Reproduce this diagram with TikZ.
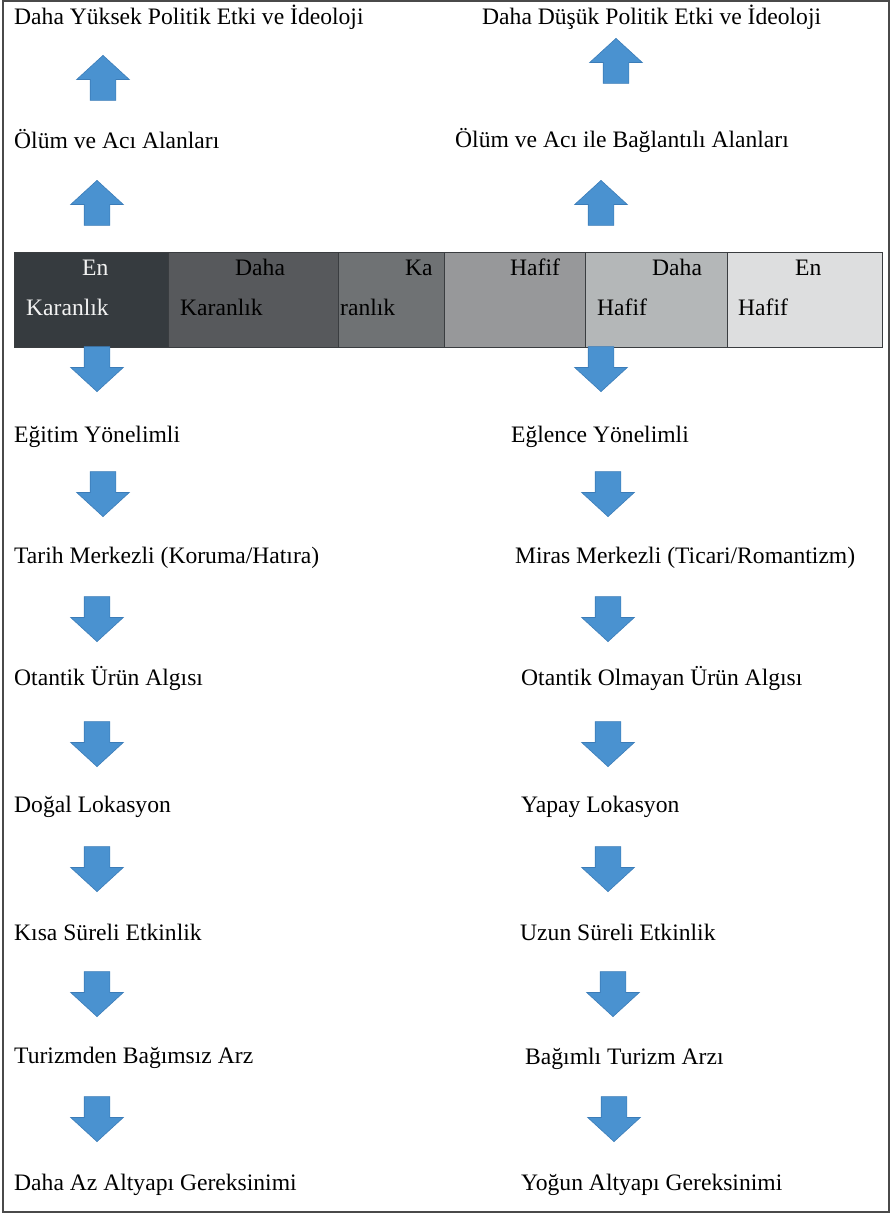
\documentclass[tikz,border=0pt]{standalone}
\usepackage{fontspec}
\setmainfont{Liberation Serif}
\usetikzlibrary{shapes.arrows, positioning}
\definecolor{arrblue}{HTML}{4A92D0}
\definecolor{arredge}{HTML}{3B7CB8}
\definecolor{barline}{HTML}{3A3D40}
\definecolor{frameline}{HTML}{4A4A4A}
\definecolor{lighttxt}{HTML}{F2F2F2}
\definecolor{shadeA}{HTML}{363B3F}
\definecolor{shadeB}{HTML}{57595C}
\definecolor{shadeC}{HTML}{6F7274}
\definecolor{shadeD}{HTML}{97989A}
\definecolor{shadeE}{HTML}{B4B7B8}
\definecolor{shadeF}{HTML}{DDDEDF}
\tikzset{
  txt/.style    ={anchor=base west, inner sep=0pt, font=\fontsize{23.6}{28}\selectfont},
  cell/.style   ={draw=barline, line width=0.7pt, anchor=north west, inner sep=0pt,
                  minimum height=95pt},
  dnarr/.style  ={single arrow, shape border rotate=270, fill=arrblue, draw=arredge,
                  line width=0.6pt, minimum height=45pt, inner sep=12.5pt,
                  single arrow head extend=13.5pt, single arrow tip angle=95,
                  anchor=tip},
  uparr/.style  ={dnarr, shape border rotate=90},
}

\begin{document}
\begin{tikzpicture}[x=1pt, y=-1pt]
  \useasboundingbox (0,0) rectangle (895,1223);
  \draw[frameline, line width=1.3pt] (3,1) rectangle (889,1212);

  % top: upward chain
  \node[txt] (topL)  at (14,25)   {Daha Yüksek Politik Etki ve İdeoloji};
  \node[txt] (topR)  at (482,25)  {Daha Düşük Politik Etki ve İdeoloji};
  \node[uparr] (uL1) at (103,55)  {};
  \node[uparr] (uR1) at (616,38)  {};
  \node[txt] (olumL) at (14,148)  {Ölüm ve Acı Alanları};
  \node[txt] (olumR) at (455,147) {Ölüm ve Acı ile Bağlantılı Alanları};
  \node[uparr] (uL2) at (97,180)  {};
  \node[uparr] (uR2) at (601,180) {};

  % shade bar
  \foreach \xa/\xb/\col [count=\i] in {14/168/shadeA, 168/338/shadeB, 338/444/shadeC,
                                       444/585/shadeD, 585/727/shadeE, 727/882/shadeF}
    \node[cell, fill=\col, minimum width=\xb pt-\xa pt] (c\i) at (\xa,252) {};

  \node[txt, text=lighttxt] (c1a) at (82,275)  {En};
  \node[txt, text=lighttxt] (c1b) at (26,315)  {Karanlık};
  \node[txt] (c2a) at (235,275) {Daha};
  \node[txt] (c2b) at (180,315) {Karanlık};
  \node[txt] (c3a) at (405,275) {Ka};
  \node[txt] (c3b) at (340,315) {ranlık};
  \node[txt] (c4a) at (510,275) {Hafif};
  \node[txt] (c5a) at (652,275) {Daha};
  \node[txt] (c5b) at (597,315) {Hafif};
  \node[txt] (c6a) at (795,275) {En};
  \node[txt] (c6b) at (738,315) {Hafif};

  % left column
  \node[dnarr] (dL1) at (97,392)  {};
  \node[txt] (egitim)  at (14,442)  {Eğitim Yönelimli};
  \node[dnarr] (dL2) at (103,517) {};
  \node[txt] (tarih)   at (14,563)  {Tarih Merkezli (Koruma/Hatıra)};
  \node[dnarr] (dL3) at (97,642)  {};
  \node[txt] (otantik) at (14,685)  {Otantik Ürün Algısı};
  \node[dnarr] (dL4) at (97,767)  {};
  \node[txt] (dogal)   at (14,812)  {Doğal Lokasyon};
  \node[dnarr] (dL5) at (97,892)  {};
  \node[txt] (kisa)    at (14,940)  {Kısa Süreli Etkinlik};
  \node[dnarr] (dL6) at (97,1017) {};
  \node[txt] (bagimsiz) at (14,1063) {Turizmden Bağımsız Arz};
  \node[dnarr] (dL7) at (97,1142) {};
  \node[txt] (azalt)   at (14,1190) {Daha Az Altyapı Gereksinimi};

  % right column
  \node[dnarr] (dR1) at (601,392)  {};
  \node[txt] (eglence) at (511,442)  {Eğlence Yönelimli};
  \node[dnarr] (dR2) at (608,517)  {};
  \node[txt] (miras)   at (515,563)  {Miras Merkezli (Ticari/Romantizm)};
  \node[dnarr] (dR3) at (608,642)  {};
  \node[txt] (olmayan) at (521,685)  {Otantik Olmayan Ürün Algısı};
  \node[dnarr] (dR4) at (608,767)  {};
  \node[txt] (yapay)   at (521,812)  {Yapay Lokasyon};
  \node[dnarr] (dR5) at (608,892)  {};
  \node[txt] (uzun)    at (520,940)  {Uzun Süreli Etkinlik};
  \node[dnarr] (dR6) at (613,1017) {};
  \node[txt] (bagimli) at (525,1064) {Bağımlı Turizm Arzı};
  \node[dnarr] (dR7) at (614,1142) {};
  \node[txt] (yogun)   at (521,1190) {Yoğun Altyapı Gereksinimi};
\end{tikzpicture}
\end{document}
